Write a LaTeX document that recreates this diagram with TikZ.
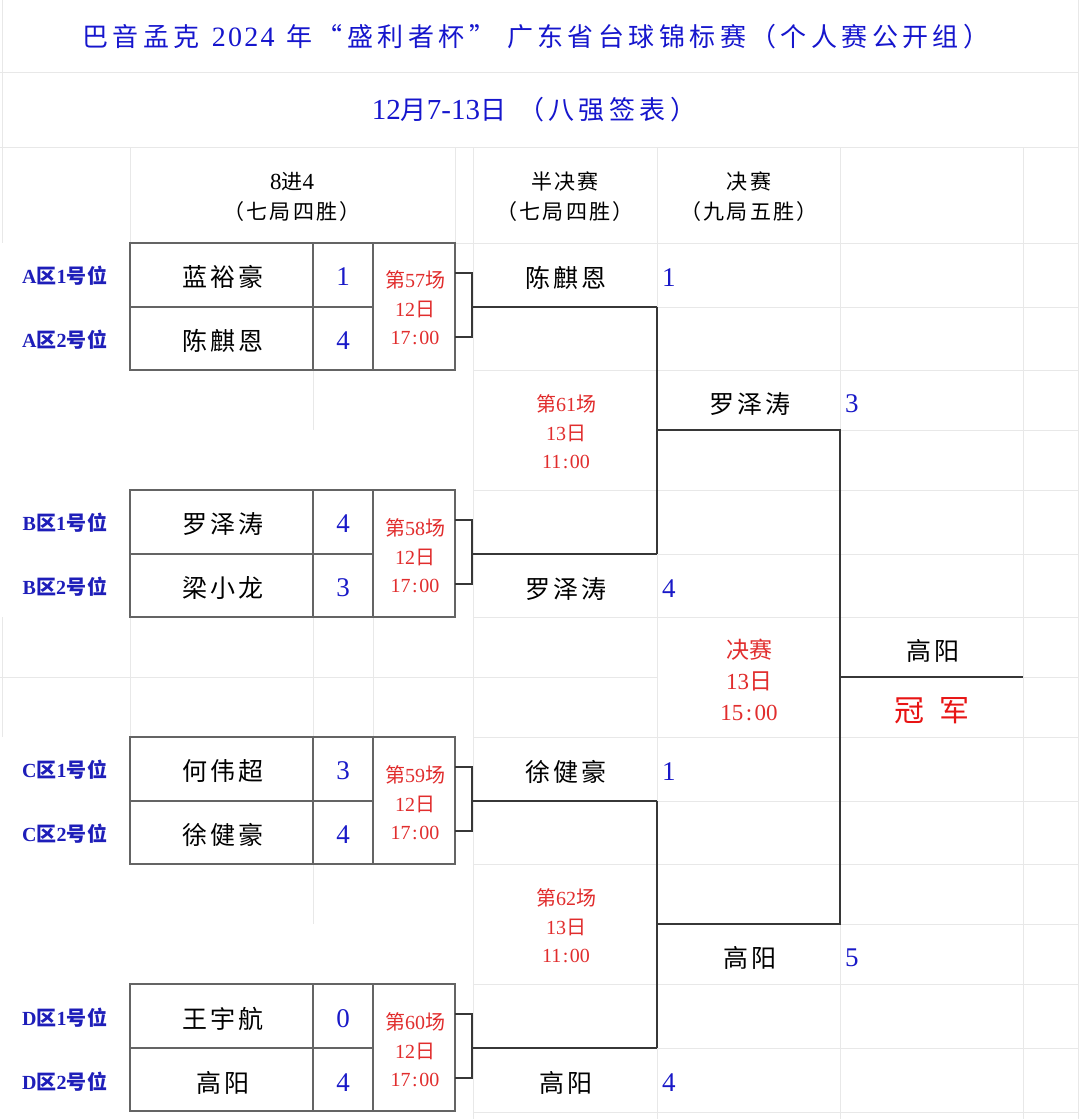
\documentclass[tikz,border=0pt]{standalone}
\usepackage{fontspec}
\setmainfont{Liberation Serif}
\newfontfamily\cjk{Noto Sans CJK SC}
\newfontfamily\cjkT[LetterSpace=17]{Noto Sans CJK SC}
\newfontfamily\serT[LetterSpace=8]{Liberation Serif}
\newfontfamily\cjkN[LetterSpace=12]{Noto Sans CJK SC}
\newfontfamily\cjkH[LetterSpace=10]{Noto Sans CJK SC}
\newfontfamily\cjkL[LetterSpace=6]{Noto Sans CJK SC}
\definecolor{tblue}{RGB}{22,22,205}
\definecolor{lblue}{RGB}{30,30,185}
\definecolor{sblue}{RGB}{25,25,200}
\definecolor{ired}{RGB}{225,45,45}
\definecolor{cred}{RGB}{232,20,20}
\definecolor{gridc}{RGB}{232,232,232}
\definecolor{boxc}{RGB}{100,100,100}
\definecolor{brc}{RGB}{55,55,55}
\tikzset{
  gridl/.style={draw=gridc, line width=0.9pt},
  boxline/.style={draw=boxc, line width=1.3pt},
  bracket/.style={draw=brc, line width=1.3pt},
  ttl/.style={text=tblue, font=\fontsize{26}{30}\selectfont, inner sep=0pt},
  hdr/.style={font=\fontsize{21}{30}\selectfont, align=center, inner sep=0pt},
  lbl/.style={text=lblue, font=\fontsize{20}{22}\selectfont\bfseries, inner sep=0pt},
  pname/.style={font=\fontsize{25}{28}\selectfont\cjkN, inner sep=0pt},
  score/.style={text=sblue, font=\fontsize{27}{30}\selectfont, inner sep=0pt},
  info/.style={text=ired, font=\fontsize{20}{28.5}\selectfont, align=center, inner sep=0pt},
  finfo/.style={text=ired, font=\fontsize{23}{31}\selectfont, align=center, inner sep=0pt},
  champ/.style={text=cred, font=\fontsize{30}{34}\selectfont\cjk, inner sep=0pt},
}
\begin{document}
\begin{tikzpicture}[x=1pt,y=-1pt]
\useasboundingbox (0,0) rectangle (1080,1119);
\fill[white] (0,0) rectangle (1080,1119);

% ---------- light spreadsheet grid ----------
\draw[gridl] (0,72) -- (1078,72);
\draw[gridl] (0,147) -- (1078,147);
\draw[gridl] (2,0) -- (2,243);
\draw[gridl] (1078,0) -- (1078,1119);
\draw[gridl] (130,147) -- (130,243);
\draw[gridl] (455,147) -- (455,243);
\foreach \x in {473,657,840,1023} \draw[gridl] (\x,147) -- (\x,1119);
\draw[gridl] (130,243) -- (1078,243);
\foreach \y in {307,370,430,490,554,617,677,737,801,864,924,984,1048,1112} {
  \draw[gridl] (840,\y) -- (1078,\y);
}
\foreach \y in {307,370,490,554,617,677,737,801,864,984,1048,1112} {
  \draw[gridl] (473,\y) -- (657,\y);
}
\foreach \y in {307,370,430,490,554,617,737,801,864,924,984,1048,1112} {
  \draw[gridl] (657,\y) -- (840,\y);
}
\draw[gridl] (0,677) -- (473,677);
\foreach \x in {2,130,313,373} \draw[gridl] (\x,617) -- (\x,737);
\draw[gridl] (313,370) -- (313,430);
\draw[gridl] (313,864) -- (313,924);

% ---------- titles ----------
\node[ttl] (title) at (536,37) {{\cjkT 巴音孟克}\hspace{12pt}{\serT\fontsize{28}{30}\selectfont 2024}\hspace{12pt}{\cjkT 年“盛利者杯”}\hspace{12pt}{\cjkT 广东省台球锦标赛（个人赛公开组）}};
\node[ttl] (subtitle) at (534,110) {{\fontsize{29}{30}\selectfont 12}{\cjkT 月}{\fontsize{29}{30}\selectfont 7-13}{\cjkT 日}\hspace{12pt}{\cjkT （八强签表）}};

\node[hdr] (h1) at (292,197) {{\fontsize{23}{30}\selectfont 8}{\cjkH 进}{\fontsize{23}{30}\selectfont 4}\\{\cjkH （七局四胜）}};
\node[hdr] (h2) at (565,197) {{\cjkH 半决赛}\\{\cjkH （七局四胜）}};
\node[hdr] (h3) at (749,197) {{\cjkH 决赛}\\{\cjkH （九局五胜）}};

% ---------- quarter-final boxes ----------
\foreach \t/\n in {243/A,490/B,737/C,984/D} {
  \draw[boxline] (130,\t) rectangle (455,\t+127);
  \draw[boxline] (130,\t+64) -- (373,\t+64);
  \draw[boxline] (313,\t) -- (313,\t+127);
  \draw[boxline] (373,\t) -- (373,\t+127);
  \coordinate (p1\n) at (455,\t+30);
  \coordinate (p2\n) at (455,\t+94);
  \coordinate (j1\n) at (472,\t+30);
  \coordinate (j2\n) at (472,\t+94);
  \coordinate (w\n) at (472,\t+64);
  \coordinate (s\n) at (657,\t+64);
  \draw[bracket] (p1\n) -- (j1\n) -- (j2\n) -- (p2\n);
  \draw[bracket] (w\n) -- (s\n);
}

% labels
\node[lbl] (la1) at (65,276) {A{\cjkL 区}1{\cjkL 号位}};
\node[lbl] (la2) at (65,340) {A{\cjkL 区}2{\cjkL 号位}};
\node[lbl] (lb1) at (65,523) {B{\cjkL 区}1{\cjkL 号位}};
\node[lbl] (lb2) at (65,587) {B{\cjkL 区}2{\cjkL 号位}};
\node[lbl] (lc1) at (65,770) {C{\cjkL 区}1{\cjkL 号位}};
\node[lbl] (lc2) at (65,834) {C{\cjkL 区}2{\cjkL 号位}};
\node[lbl] (ld1) at (65,1018) {D{\cjkL 区}1{\cjkL 号位}};
\node[lbl] (ld2) at (65,1082) {D{\cjkL 区}2{\cjkL 号位}};

% names
\node[pname] (na1) at (223,277) {蓝裕豪};
\node[pname] (na2) at (223,341) {陈麒恩};
\node[pname] (nb1) at (223,524) {罗泽涛};
\node[pname] (nb2) at (223,588) {梁小龙};
\node[pname] (nc1) at (223,771) {何伟超};
\node[pname] (nc2) at (223,835) {徐健豪};
\node[pname] (nd1) at (223,1019) {王宇航};
\node[pname] (nd2) at (223,1083) {高阳};

% scores
\node[score] (sa1) at (343,277) {1};
\node[score] (sa2) at (343,341) {4};
\node[score] (sb1) at (343,524) {4};
\node[score] (sb2) at (343,588) {3};
\node[score] (sc1) at (343,771) {3};
\node[score] (sc2) at (343,835) {4};
\node[score] (sd1) at (343,1019) {0};
\node[score] (sd2) at (343,1083) {4};

% match info
\node[info] (ma) at (415,308) {{\cjk 第}57{\cjk 场}\\12{\cjk 日}\\17\kern1.5pt:\kern1.5pt00};
\node[info] (mb) at (415,556) {{\cjk 第}58{\cjk 场}\\12{\cjk 日}\\17\kern1.5pt:\kern1.5pt00};
\node[info] (mc) at (415,803) {{\cjk 第}59{\cjk 场}\\12{\cjk 日}\\17\kern1.5pt:\kern1.5pt00};
\node[info] (md) at (415,1050) {{\cjk 第}60{\cjk 场}\\12{\cjk 日}\\17\kern1.5pt:\kern1.5pt00};

% ---------- semi-finals ----------
\draw[bracket] (sA) -- (sB);
\draw[bracket] (sC) -- (sD);
\node[pname] (s1) at (566,278) {陈麒恩};
\node[score, anchor=west] (ss1) at (662,278) {1};
\node[pname] (s2) at (566,589) {罗泽涛};
\node[score, anchor=west] (ss2) at (662,589) {4};
\node[pname] (s3) at (566,772) {徐健豪};
\node[score, anchor=west] (ss3) at (662,772) {1};
\node[pname] (s4) at (566,1083) {高阳};
\node[score, anchor=west] (ss4) at (662,1083) {4};
\node[info] (m61) at (566,432) {{\cjk 第}61{\cjk 场}\\13{\cjk 日}\\11\kern1.5pt:\kern1.5pt00};
\node[info] (m62) at (566,926) {{\cjk 第}62{\cjk 场}\\13{\cjk 日}\\11\kern1.5pt:\kern1.5pt00};

% ---------- final ----------
\coordinate (fu) at (657,430);
\coordinate (fl) at (657,924);
\coordinate (fu2) at (840,430);
\coordinate (fl2) at (840,924);
\coordinate (cw) at (840,677);
\coordinate (ce) at (1023,677);
\draw[bracket] (fu) -- (fu2) -- (fl2) -- (fl);
\draw[bracket] (cw) -- (ce);
\node[pname] (f1) at (750,404) {罗泽涛};
\node[score, anchor=west] (fs1) at (845,404) {3};
\node[pname] (f2) at (750,958) {高阳};
\node[score, anchor=west] (fs2) at (845,958) {5};
\node[finfo] (mf) at (749,680) {{\cjk 决赛}\\13{\cjk 日}\\15\kern2.5pt:\kern2.5pt00};

% champion
\node[pname] (ch) at (933,651) {高阳};
\node[champ] (cl) at (932,711) {冠\hspace{15pt}军};
\end{tikzpicture}
\end{document}
